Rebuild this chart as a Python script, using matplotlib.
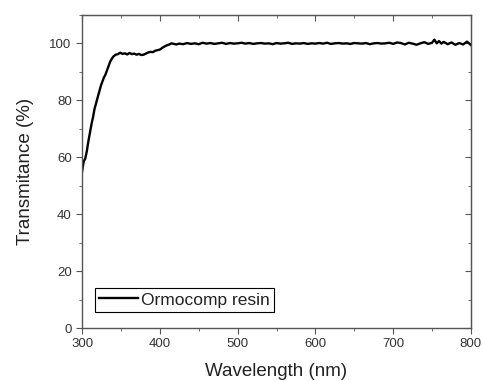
import matplotlib
matplotlib.use('Agg')
import matplotlib.pyplot as plt
from matplotlib.ticker import MultipleLocator

plt.rcParams['font.family'] = ['Liberation Sans', 'DejaVu Sans']

# wavelength (nm) and transmittance (%)
wavelength = [300, 302, 304, 306, 308, 310, 312, 314, 316, 318, 320, 322, 324, 326, 328,
              330, 332, 334, 336, 338, 340, 343, 346, 349, 352, 355, 358, 361, 364, 367,
              370, 373, 376, 379, 382, 385, 388, 391, 394, 397, 400, 403, 406, 409, 412,
              415, 418, 421, 425, 430, 435, 440, 445, 450, 455, 460, 465, 470, 475, 480,
              485, 490, 495, 500, 505, 510, 515, 520, 525, 530, 535, 540, 545, 550, 555,
              560, 565, 570, 575, 580, 585, 590, 595, 600, 605, 610, 615, 620, 625, 630,
              635, 640, 645, 650, 655, 660, 665, 670, 675, 680, 685, 690, 695, 700, 705,
              710, 715, 720, 725, 730, 735, 740, 745, 750, 753, 756, 759, 762, 765, 770,
              775, 780, 785, 790, 795, 800]
transmittance = [55.0, 58.5, 59.5, 62.0, 65.5, 68.5, 71.5, 74.0, 77.0, 79.0, 81.0, 83.0, 85.0, 86.5, 88.0,
                 89.0, 90.5, 92.0, 93.5, 94.5, 95.3, 96.0, 96.2, 96.7, 96.3, 96.5, 96.1, 96.6, 96.2, 96.4,
                 96.0, 96.3, 95.9, 96.0, 96.4, 96.8, 97.0, 96.9, 97.4, 97.6, 97.8, 98.4, 98.9, 99.3, 99.6,
                 100.0, 99.8, 99.6, 99.9, 99.7, 100.1, 99.8, 100.0, 99.7, 100.2, 99.9, 100.1, 99.8, 100.0, 100.2,
                 99.8, 100.1, 99.9, 100.0, 100.2, 99.9, 100.1, 99.8, 100.0, 100.1, 99.9, 100.0, 99.7, 100.1, 99.9,
                 100.0, 100.2, 99.8, 100.0, 99.9, 100.1, 99.8, 100.0, 99.9, 100.1, 99.9, 100.2, 99.8, 100.0, 100.1,
                 99.9, 100.0, 99.8, 100.1, 100.0, 99.9, 100.1, 99.7, 100.0, 100.1, 99.9, 100.0, 100.2, 99.8, 100.3,
                 100.1, 99.6, 100.2, 99.9, 99.5, 100.0, 100.4, 99.8, 100.2, 101.3, 100.0, 100.8, 99.9, 100.5, 99.7,
                 100.3, 99.5, 100.1, 99.6, 100.6, 99.4]

fig = plt.figure(figsize=(4.83, 3.81), dpi=100)
ax = fig.add_axes([0.170, 0.139, 0.805, 0.822])

ax.plot(wavelength, transmittance, color='black', lw=1.7, label='Ormocomp resin')

ax.set_xlim(300, 800)
ax.set_ylim(0, 110)
ax.xaxis.set_major_locator(MultipleLocator(100))
ax.xaxis.set_minor_locator(MultipleLocator(50))
ax.yaxis.set_major_locator(MultipleLocator(20))
ax.yaxis.set_minor_locator(MultipleLocator(10))

for s in ax.spines.values():
    s.set_color('#555555')
    s.set_linewidth(1.0)

ax.tick_params(which='both', direction='out', colors='#555555', labelcolor='#333333',
               labelsize=9.5, top=False, right=False)
ax.tick_params(which='major', length=4)
ax.tick_params(which='minor', length=2.5)

# mirrored inward ticks on top and right
sec_x = ax.secondary_xaxis('top')
sec_x.xaxis.set_major_locator(MultipleLocator(100))
sec_x.xaxis.set_minor_locator(MultipleLocator(50))
sec_x.tick_params(which='both', direction='in', colors='#555555', labeltop=False)
sec_x.tick_params(which='major', length=4)
sec_x.tick_params(which='minor', length=2.5)
sec_x.spines['top'].set_color('#555555')
sec_y = ax.secondary_yaxis('right')
sec_y.yaxis.set_major_locator(MultipleLocator(20))
sec_y.yaxis.set_minor_locator(MultipleLocator(10))
sec_y.tick_params(which='both', direction='in', colors='#555555', labelright=False)
sec_y.tick_params(which='major', length=4)
sec_y.tick_params(which='minor', length=2.5)
sec_y.spines['right'].set_color('#555555')

ax.set_xlabel('Wavelength (nm)', fontsize=13.5, color='#222222', labelpad=9)
ax.set_ylabel('Transmitance (%)', fontsize=13.5, color='#222222', labelpad=11)

leg = ax.legend(loc='lower left', bbox_to_anchor=(0.02, 0.035), fontsize=12.5,
                frameon=True, fancybox=False, edgecolor='black', framealpha=1,
                handlelength=2.2, handletextpad=0.2, borderpad=0.25, borderaxespad=0.3)
leg.get_frame().set_linewidth(0.8)
for t in leg.get_texts():
    t.set_color('#222222')

fig.savefig('out.png', dpi=100)
